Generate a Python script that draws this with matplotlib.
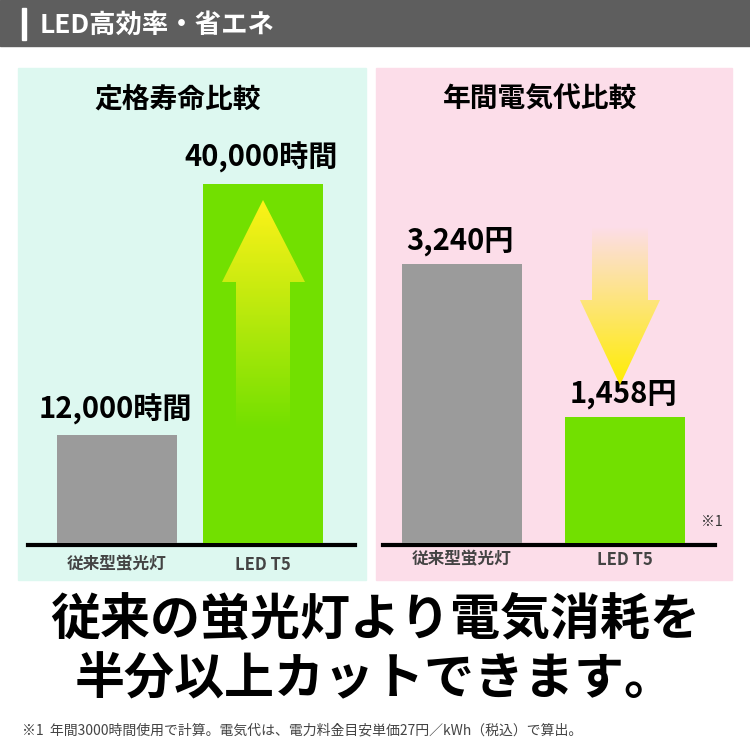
import numpy as np
import matplotlib.pyplot as plt
from matplotlib.patches import Rectangle, Polygon

plt.rcParams["font.family"] = "Noto Sans CJK JP"

life_cats = ["従来型蛍光灯", "LED T5"]
life_vals = [12000, 40000]
life_labels = ["12,000時間", "40,000時間"]
cost_cats = ["従来型蛍光灯", "LED T5"]
cost_vals = [3240, 1458]
cost_labels = ["3,240円", "1,458円"]
bar_colors = ["#9b9b9b", "#72e000"]

fig = plt.figure(figsize=(7.5, 7.5), dpi=100)
ov = fig.add_axes([0, 0, 1, 1])
ov.set_xlim(0, 750)
ov.set_ylim(750, 0)
ov.axis("off")

# header
ov.add_patch(Rectangle((0, 0), 750, 46, color="#5e5e5e"))
ov.add_patch(Rectangle((22, 8), 4, 32, color="white"))
ov.text(40, 25, "LED高効率・省エネ", color="white", fontsize=19, fontweight="bold", va="center")

# panels
ov.add_patch(Rectangle((18, 68), 348, 512, color="#ddf8f0"))
ov.add_patch(Rectangle((376, 68), 356, 512, color="#fcdde9"))
ov.text(178, 100, "定格寿命比較", fontsize=20, fontweight="bold", ha="center", va="center")
ov.text(540, 100, "年間電気代比較", fontsize=20, fontweight="bold", ha="center", va="center")


def panel(left, width, top, vmax, centers, vals, labels, cats):
    ax = fig.add_axes([left / 750, (750 - 543) / 750, width / 750, (543 - top) / 750])
    ax.set_xlim(0, width)
    ax.set_ylim(0, vmax)
    ax.axis("off")
    ax.bar(centers, vals, width=120, color=bar_colors, align="center")
    for c, v, lab, cat in zip(centers, vals, labels, cats):
        ax.text(c - 2, v + vmax * 0.03, lab, fontsize=21, fontweight="bold", ha="center", va="bottom")
        ax.text(c, -vmax * 0.06, cat, fontsize=12, fontweight="bold", color="#444444",
                ha="center", va="center", clip_on=False)
    return ax


panel(28, 327, 184, 40000, [89, 235], life_vals, life_labels, life_cats)
panel(383, 332, 264, 3240, [79, 242], cost_vals, cost_labels, cost_cats)
ov.plot([28, 355], [545, 545], color="black", lw=3)
ov.plot([383, 715], [545, 545], color="black", lw=3)
ov.text(712, 522, "※1", fontsize=10, ha="center", va="center", color="#333333")


def grad_arrow(verts, y0, y1, top_alpha, bot_alpha, col, ax):
    poly = Polygon(verts, closed=True, facecolor="none", edgecolor="none",
                   transform=ax.transData)
    n = 256
    a = np.linspace(top_alpha, bot_alpha, n)
    img = np.zeros((n, 1, 4))
    img[:, 0, :3] = col
    img[:, 0, 3] = a
    xs = [v[0] for v in verts]
    im = ax.imshow(img, extent=[min(xs), max(xs), y1, y0], aspect="auto",
                   interpolation="bilinear", zorder=5)
    im.set_clip_path(poly)


top = fig.add_axes([0, 0, 1, 1])
top.set_xlim(0, 750)
top.set_ylim(750, 0)
top.axis("off")
top.patch.set_alpha(0)
grad_arrow([(263, 200), (305, 282), (290, 282), (290, 430), (236, 430), (236, 282), (222, 282)],
           200, 430, 1.0, 0.0, (1.0, 0.95, 0.1), top)
grad_arrow([(592, 226), (648, 226), (648, 300), (660, 300), (620, 385), (580, 300), (592, 300)],
           226, 385, 0.0, 1.0, (1.0, 0.93, 0.0), top)
top.set_xlim(0, 750)
top.set_ylim(750, 0)

# big message
ov.text(375, 620, "従来の蛍光灯より電気消耗を", fontsize=36, fontweight="bold", ha="center", va="center")
ov.text(375, 680, "半分以上カットできます。", fontsize=36, fontweight="bold", ha="center", va="center")
ov.text(22, 731, "※1  年間3000時間使用で計算。電気代は、電力料金目安単価27円／kWh（税込）で算出。",
        fontsize=10, color="#444444", va="center")

fig.savefig("out.png", dpi=100)
